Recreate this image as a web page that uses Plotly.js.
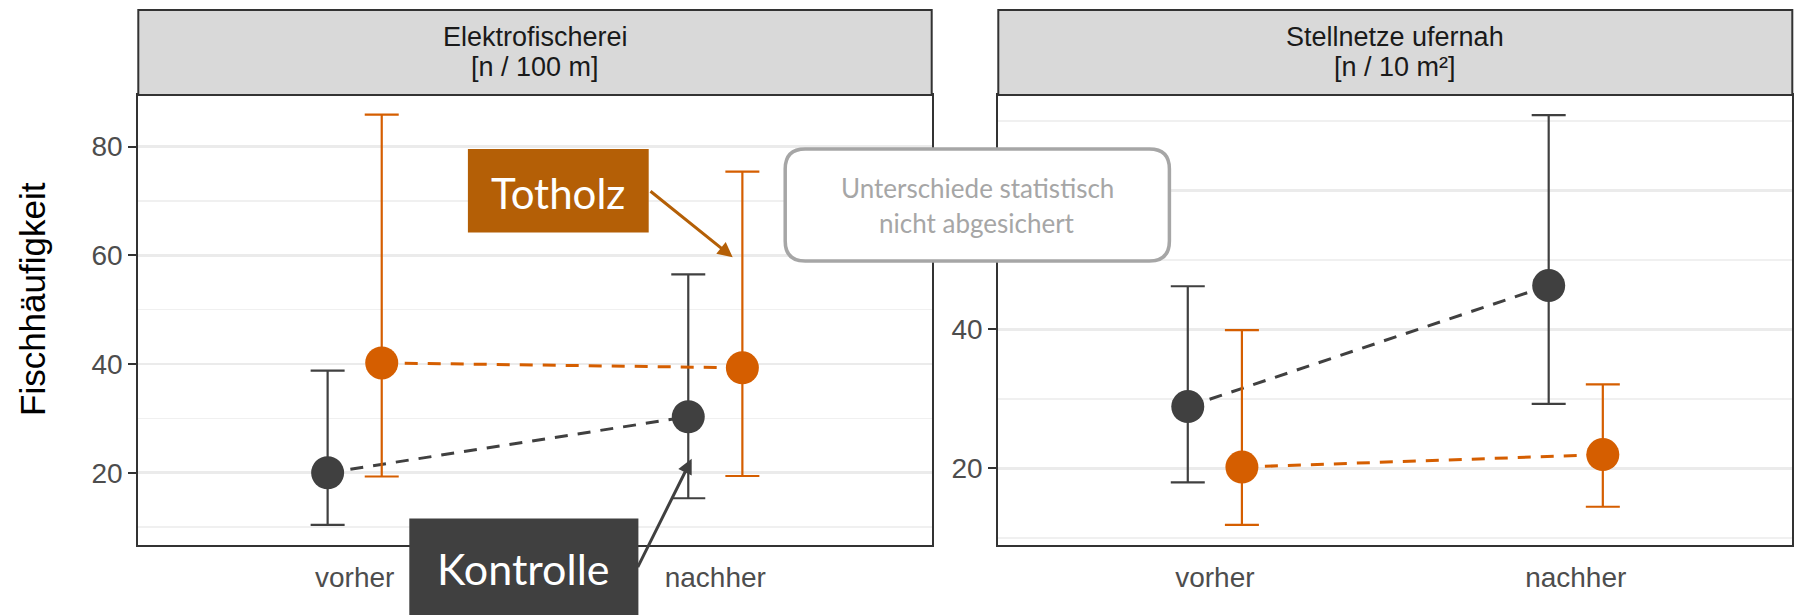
<!DOCTYPE html>
<html>
<head>
<meta charset="utf-8">
<script src="https://cdn.plot.ly/plotly-3.0.1.min.js"></script>
<style>
  html, body { margin: 0; padding: 0; background: #fff; }
  #myPlot { width: 1794px; height: 615px; }
</style>
</head>
<body>
<div id="myPlot"></div>
<script>
    //Datos
    var kategorien = ["vorher", "nachher"];

    //Elektrofischerei [n / 100 m]
    var efKontrolleMittel = [20.0, 30.3];
    var efKontrolleOben = [38.8, 56.5];
    var efKontrolleUnten = [10.4, 15.3];
    var efTotholzMittel = [40.2, 39.3];
    var efTotholzOben = [85.9, 75.4];
    var efTotholzUnten = [19.3, 19.4];

    //Stellnetze ufernah [n / 10 m²]
    var snKontrolleMittel = [28.9, 46.3];
    var snKontrolleOben = [46.2, 70.8];
    var snKontrolleUnten = [18.0, 29.3];
    var snTotholzMittel = [20.2, 22.0];
    var snTotholzOben = [39.9, 32.1];
    var snTotholzUnten = [11.9, 14.5];

    //ticks del eje y (el 60 de la derecha queda tapado por la nota)
    var efTicks = [20, 40, 60, 80];
    var efTickText = ["20", "40", "60", "80"];
    var snTicks = [20, 40, 60];
    var snTickText = ["20", "40", ""];

    var grau = "#404040";
    var orange = "#D55E00";
    var W = 1794, H = 615;

    //pixel a coordenadas de papel
    function fx(x) { return x / W; }
    function fy(y) { return 1 - y / H; }

    //posiciones en el eje (1, 2) con dodge
    function posiciones(desplazamiento) {
        return kategorien.map(function (k, i) { return i + 1 + desplazamiento; });
    }
    function diferencia(a, b) {
        return a.map(function (v, i) { return +(v - b[i]).toFixed(2); });
    }

    function serie(mittel, oben, unten, color, dodge, xa, ya) {
        return {
            x: posiciones(dodge),
            y: mittel,
            xaxis: xa,
            yaxis: ya,
            type: "scatter",
            mode: "lines+markers",
            line: { color: color, width: 3, dash: "13px,10px" },
            marker: { color: color, size: 33 },
            error_y: {
                type: "data",
                symmetric: false,
                array: diferencia(oben, mittel),
                arrayminus: diferencia(mittel, unten),
                color: color,
                thickness: 2.2,
                width: 17
            },
            hoverinfo: "skip",
            showlegend: false
        };
    }

    var d = 0.075;
    var data = [
        serie(efKontrolleMittel, efKontrolleOben, efKontrolleUnten, grau, -d, "x", "y"),
        serie(efTotholzMittel, efTotholzOben, efTotholzUnten, orange, d, "x", "y"),
        serie(snKontrolleMittel, snKontrolleOben, snKontrolleUnten, grau, -d, "x2", "y2"),
        serie(snTotholzMittel, snTotholzOben, snTotholzUnten, orange, d, "x2", "y2")
    ];

    var plotTop = 95, plotBottom = 545, stripTop = 10;
    var links = [138.3, 931.7], rechts = [998.3, 1792.3];

    function xachse(dom, anchor) {
        return {
            domain: [fx(dom[0]), fx(dom[1])],
            anchor: anchor,
            range: [0.4, 2.6],
            tickvals: posiciones(0),
            ticktext: kategorien,
            ticks: "outside",
            ticklen: 6,
            tickcolor: "rgba(0,0,0,0)",
            tickfont: { family: "Liberation Sans, Arial, sans-serif", size: 28, color: "#4D4D4D" },
            showgrid: false,
            zeroline: false,
            showline: true,
            mirror: true,
            linecolor: "#333333",
            linewidth: 2
        };
    }
    function yachse(rango, anchor, vals, texte) {
        return {
            domain: [fy(plotBottom), fy(plotTop)],
            range: rango,
            anchor: anchor,
            tickvals: vals,
            ticktext: texte,
            ticks: "outside",
            ticklen: 8,
            tickwidth: 2,
            tickcolor: "#333333",
            tickfont: { family: "Liberation Sans, Arial, sans-serif", size: 28, color: "#4D4D4D" },
            showgrid: true,
            gridcolor: "#EBEBEB",
            gridwidth: 2.5,
            minor: { dtick: 10, tick0: 0, showgrid: true, gridcolor: "#F0F0F0", gridwidth: 1.6, ticklen: 0 },
            zeroline: false,
            showline: true,
            mirror: true,
            linecolor: "#333333",
            linewidth: 2
        };
    }

    //caja redondeada
    function rundBox(x0, y0, x1, y1, r) {
        var p = "M" + fx(x0 + r) + "," + fy(y0) +
            " L" + fx(x1 - r) + "," + fy(y0) +
            " Q" + fx(x1) + "," + fy(y0) + " " + fx(x1) + "," + fy(y0 + r) +
            " L" + fx(x1) + "," + fy(y1 - r) +
            " Q" + fx(x1) + "," + fy(y1) + " " + fx(x1 - r) + "," + fy(y1) +
            " L" + fx(x0 + r) + "," + fy(y1) +
            " Q" + fx(x0) + "," + fy(y1) + " " + fx(x0) + "," + fy(y1 - r) +
            " L" + fx(x0) + "," + fy(y0 + r) +
            " Q" + fx(x0) + "," + fy(y0) + " " + fx(x0 + r) + "," + fy(y0) + " Z";
        return p;
    }

    function strip(dom) {
        return {
            type: "rect", xref: "paper", yref: "paper", layer: "above",
            x0: fx(dom[0]), x1: fx(dom[1]), y0: fy(plotTop), y1: fy(stripTop),
            fillcolor: "#D9D9D9", line: { color: "#333333", width: 2 }
        };
    }

    var shapes = [
        strip(links),
        strip(rechts),
        //Totholz
        {
            type: "rect", xref: "paper", yref: "paper", layer: "above",
            x0: fx(467.9), x1: fx(648.7), y0: fy(232.5), y1: fy(149),
            fillcolor: "#B45F06", line: { width: 0 }
        },
        //Kontrolle
        {
            type: "rect", xref: "paper", yref: "paper", layer: "above",
            x0: fx(409.3), x1: fx(638.4), y0: fy(616), y1: fy(518.4),
            fillcolor: "#404040", line: { width: 0 }
        },
        //nota
        {
            type: "path", xref: "paper", yref: "paper", layer: "above",
            path: rundBox(785.2, 149, 1169.4, 261, 20),
            fillcolor: "#FFFFFF", line: { color: "#A6A6A6", width: 3.5 }
        }
    ];

    var schrift = "Liberation Sans, Arial, sans-serif";
    function text(t, x, y, size, color, fam, extra) {
        var a = {
            text: t, xref: "paper", yref: "paper", x: fx(x), y: fy(y),
            xanchor: "center", yanchor: "middle", showarrow: false,
            font: { family: fam || schrift, size: size, color: color }
        };
        for (var k in extra) { a[k] = extra[k]; }
        return a;
    }
    function pfeil(sx, sy, tx, ty, color) {
        return {
            text: "", xref: "paper", yref: "paper", x: fx(tx), y: fy(ty),
            axref: "pixel", ayref: "pixel", ax: sx - tx, ay: sy - ty,
            showarrow: true, arrowhead: 2, arrowsize: 1, arrowwidth: 3,
            arrowcolor: color, standoff: 0, startstandoff: 0
        };
    }

    var lato = "Lato, Open Sans, sans-serif";
    var annotations = [
        text("Elektrofischerei", (links[0] + links[1]) / 2, 37, 27, "#1A1A1A"),
        text("[n / 100 m]", (links[0] + links[1]) / 2, 67, 27, "#1A1A1A"),
        text("Stellnetze ufernah", (rechts[0] + rechts[1]) / 2, 37, 27, "#1A1A1A"),
        text("[n / 10 m²]", (rechts[0] + rechts[1]) / 2, 67, 27, "#1A1A1A"),
        text("Fischhäufigkeit", 32, 299, 35, "#000000", null, { textangle: -90 }),
        text("Totholz", 557.5, 193, 42, "#FFFFFF", lato),
        text("Kontrolle", 523, 568, 43, "#FFFFFF", lato),
        text("Unterschiede statistisch", 977.3, 188, 26, "#A6A6A6", lato),
        text("nicht abgesichert", 977.3, 223, 26, "#A6A6A6", lato),
        pfeil(649, 190, 732.7, 257.3, "#B45F06"),
        pfeil(637, 568.6, 691.7, 458.8, "#404040")
    ];

    var layout = {
        width: W,
        height: H,
        margin: { l: 0, r: 0, t: 0, b: 0 },
        paper_bgcolor: "#FFFFFF",
        plot_bgcolor: "#FFFFFF",
        showlegend: false,
        xaxis: xachse(links, "y"),
        yaxis: yachse([6.7, 89.5], "x", efTicks, efTickText),
        xaxis2: xachse(rechts, "y2"),
        yaxis2: yachse([9.0, 73.7], "x2", snTicks, snTickText),
        shapes: shapes,
        annotations: annotations
    };

    Plotly.newPlot("myPlot", data, layout, { staticPlot: true, displayModeBar: false });
</script>
</body>
</html>
